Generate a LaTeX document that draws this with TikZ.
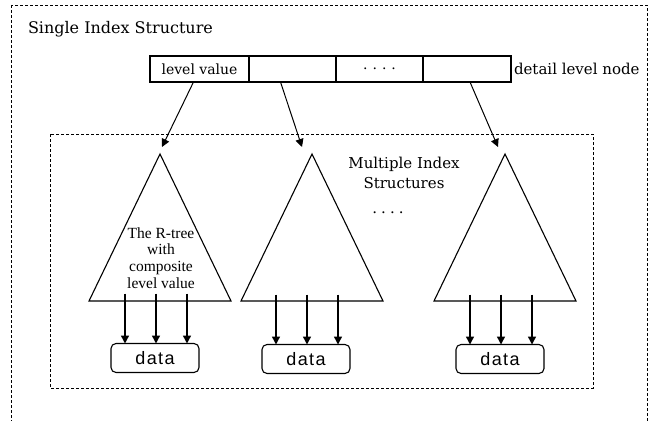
\documentclass[tikz,border=0pt]{standalone}
\usepackage{fontspec}
\setmainfont{DejaVu Serif}
\newfontfamily\treefont{Liberation Serif}
\newfontfamily\datafont[LetterSpace=8]{Liberation Sans}
\usetikzlibrary{arrows.meta,positioning}

\begin{document}
\begin{tikzpicture}[x=1pt, y=-1pt, >={Triangle[length=8pt,width=8pt]},
    every node/.style={font=\fontsize{15}{18}\selectfont, inner sep=0pt, outer sep=0pt},
    frame/.style={draw, dash pattern=on 3pt off 2pt, line width=0.9pt},
    cell/.style={draw, line width=1.1pt, minimum height=26pt, font=\fontsize{14}{16}\selectfont},
    databox/.style={draw, line width=1.1pt, rounded corners=5pt, minimum width=88pt, minimum height=29pt,
        font=\datafont\fontsize{18}{20}\selectfont},
    tree/.style={draw, line width=1.1pt, line join=miter},
    link/.style={->, line width=1pt},
    feed/.style={->, line width=1.4pt}]
    \clip (0,0) rectangle (650,420);

    % dashed frames: whole single index, and the group of trees
    \draw[frame] (11,5) rectangle (647,440);
    \draw[frame] (50,134) rectangle (593,388);
    \node[anchor=base west, font=\fontsize{16}{18}\selectfont] (title) at (28,34) {Single Index Structure};

    % the detail level node, one cell per level value
    \node[cell, minimum width=99pt, anchor=north west] (c1) at (150,56) {level value};
    \node[cell, minimum width=87pt, right=0pt of c1] (c2) {};
    \node[cell, minimum width=87pt, right=0pt of c2] (c3) {.\hspace{5pt}.\hspace{5pt}.\hspace{5pt}.\hspace{18pt}};
    \node[cell, minimum width=88pt, right=0pt of c3] (c4) {};
    \node[right=3pt of c4] (lbl) {detail level node};

    % one R-tree per level value
    \foreach \n/\x in {1/160,2/312,3/505} {
        \coordinate (top\n) at (\x,154);
        \draw[tree] (top\n) -- (\x-71,301) -- (\x+71,301) -- cycle;
    }
    \coordinate (p1) at (162,147);
    \coordinate (p2) at (302,147);
    \coordinate (p3) at (498,147);
    \draw[link] ([xshift=-6pt]c1.south) -- (p1);
    \draw[link] ([xshift=-12pt]c2.south) -- (p2);
    \draw[link] ([xshift=3pt]c4.south) -- (p3);

    \node[align=center, font=\treefont\fontsize{15.5}{16.7}\selectfont] (rtree) at (161,258)
        {The R-tree\\with\\composite\\level value};
    \node[align=center, font=\fontsize{15}{20}\selectfont] (multi) at (404,173) {Multiple Index\\Structures};
    \node (dots) at (388,213) {.\hspace{4pt}.\hspace{4pt}.\hspace{4pt}.};

    % leaf data under each tree
    \node[databox] (d1) at (155,358) {data};
    \node[databox] (d2) at (306,359) {data};
    \node[databox] (d3) at (500,359) {data};
    \foreach \b in {d1,d2,d3}
        \foreach \dx in {-30,1,32}
            \draw[feed] ([xshift=\dx pt, yshift=50pt]\b.north) -- ([xshift=\dx pt]\b.north);
\end{tikzpicture}
\end{document}
